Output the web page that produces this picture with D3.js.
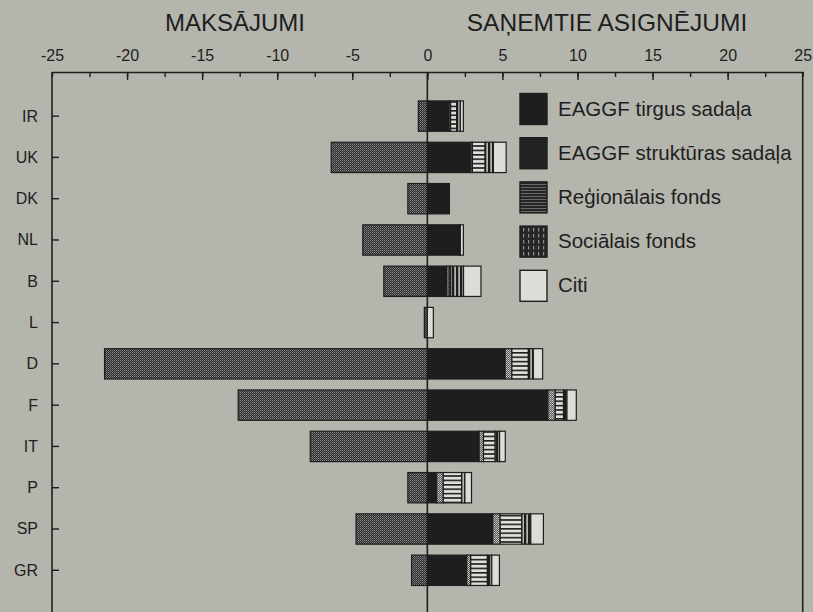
<!DOCTYPE html>
<html>
<head>
<meta charset="utf-8">
<script src="https://cdn.jsdelivr.net/npm/d3@7"></script>
<style>
  html, body { margin: 0; padding: 0; background: #b4b5ac; }
  svg { display: block; font-family: "Liberation Sans", Arial, Helvetica, sans-serif; }
</style>
</head>
<body>
<svg id="chart" width="813" height="612"></svg>
<script>
// Member states (top to bottom)
const categories = ["IR", "UK", "DK", "NL", "B", "L", "D", "F", "IT", "P", "SP", "GR"];

// Payments into the budget (negative side)
const payments = [-0.6, -6.4, -1.3, -4.3, -2.9, -0.2, -21.5, -12.6, -7.8, -1.3, -4.75, -1.05];

// Receipts by fund (positive side, stacked)
const eaggfMarket = [1.45, 2.9, 1.47, 2.15, 1.29, 0, 5.18, 8.03, 3.45, 0.62, 4.36, 2.62];
const eaggfStruct = [0.1, 0.1, 0, 0, 0.17, 0, 0.45, 0.49, 0.29, 0.44, 0.49, 0.27];
const regionalFund = [0.4, 0.85, 0, 0, 0.1, 0, 1.1, 0.55, 0.78, 1.22, 1.44, 1.11];
const socialFund = [0.25, 0.55, 0, 0.05, 0.85, 0, 0.33, 0.23, 0.29, 0.22, 0.6, 0.29];
const otherFunds = [0.2, 0.85, 0, 0.2, 1.16, 0.4, 0.62, 0.62, 0.38, 0.44, 0.84, 0.51];

const seriesKeys = ["market", "struct", "regional", "social", "other"];
const legendLabels = [
  "EAGGF tirgus sadaļa",
  "EAGGF struktūras sadaļa",
  "Reģionālais fonds",
  "Sociālais fonds",
  "Citi"
];

const majorTicks = [-25, -20, -15, -10, -5, 0, 5, 10, 15, 20, 25];
const minorTicks = d3.range(-25, 25.01, 2.5);

const ink = "#1e1e1e";
const svg = d3.select("#chart");

// ---- fill patterns ----
const defs = svg.append("defs");
function pattern(id, w, h, draw) {
  const p = defs.append("pattern").attr("id", id)
    .attr("patternUnits", "userSpaceOnUse").attr("width", w).attr("height", h);
  draw(p);
}
pattern("payStipple", 2, 2, p => {
  p.append("rect").attr("width", 2).attr("height", 2).attr("fill", "#2b2b2b");
  p.append("rect").attr("x", 0).attr("y", 0).attr("width", 1).attr("height", 1).attr("fill", "#8c8c8c");
  p.append("rect").attr("x", 1).attr("y", 1).attr("width", 1).attr("height", 1).attr("fill", "#646464");
});
pattern("structStipple", 2, 2, p => {
  p.append("rect").attr("width", 2).attr("height", 2).attr("fill", "#555");
  p.append("rect").attr("x", 0).attr("y", 0).attr("width", 1).attr("height", 1).attr("fill", "#cfcfc9");
  p.append("rect").attr("x", 1).attr("y", 1).attr("width", 1).attr("height", 1).attr("fill", "#b8b8b2");
});
pattern("regionalLines", 4, 4.4, p => {
  p.append("rect").attr("width", 4).attr("height", 4.4).attr("fill", "#e0e0da");
  p.append("rect").attr("y", 0).attr("width", 4).attr("height", 1.6).attr("fill", "#1e1e1e");
});
pattern("socialLines", 4, 4, p => {
  p.append("rect").attr("width", 4).attr("height", 4).attr("fill", "#1e1e1e");
  p.append("rect").attr("x", 2.4).attr("width", 1.4).attr("height", 4).attr("fill", "#d8d8d2");
});
pattern("legendRegional", 4, 3, p => {
  p.append("rect").attr("width", 4).attr("height", 3).attr("fill", "#262626");
  p.append("rect").attr("y", 1).attr("width", 4).attr("height", 0.9).attr("fill", "#707070");
});
pattern("legendSocial", 5, 6, p => {
  p.append("rect").attr("width", 5).attr("height", 6).attr("fill", "#262626");
  p.append("rect").attr("x", 3).attr("width", 1.2).attr("height", 3.5).attr("fill", "#8e8e8e");
});

const barFill = {
  market: ink,
  struct: "url(#structStipple)",
  regional: "url(#regionalLines)",
  social: "url(#socialLines)",
  other: "#ddddd7"
};
const legendFill = {
  market: ink,
  struct: "#222",
  regional: "url(#legendRegional)",
  social: "url(#legendSocial)",
  other: "#ddddd7"
};

// ---- scales ----
const x = d3.scaleLinear().domain([-25, 25]).range([52, 802.7]);
const y = d3.scaleBand().domain(categories).range([90, 90 + 42.2 * categories.length]).padding(0.265);

const frameTop = 72;
const frameBottom = 612;

// ---- titles ----
svg.append("text").attr("x", 235).attr("y", 31).attr("text-anchor", "middle")
  .attr("font-size", 24).attr("fill", ink).text("MAKSĀJUMI");
svg.append("text").attr("x", 607).attr("y", 31).attr("text-anchor", "middle")
  .attr("font-size", 24.5).attr("fill", ink).text("SAŅEMTIE ASIGNĒJUMI");

// ---- top axis: labels above the frame, ticks hanging inside ----
const labelAxis = svg.append("g").attr("transform", `translate(0,${frameTop - 9})`)
  .call(d3.axisTop(x).tickValues(majorTicks).tickSize(0).tickSizeOuter(0).tickPadding(2)
    .tickFormat(d => String(d)));
labelAxis.select(".domain").remove();
labelAxis.selectAll("text").attr("font-size", 16).attr("fill", ink)
  .attr("font-family", "'Liberation Sans', Arial, sans-serif");

const minorAxis = svg.append("g").attr("transform", `translate(0,${frameTop})`)
  .call(d3.axisBottom(x).tickValues(minorTicks).tickSize(5).tickSizeOuter(0).tickFormat(""));
minorAxis.select(".domain").attr("stroke", ink).attr("stroke-width", 1.6);
minorAxis.selectAll(".tick line").attr("stroke", ink).attr("stroke-width", 1.4);

const majorAxis = svg.append("g").attr("transform", `translate(0,${frameTop})`)
  .call(d3.axisBottom(x).tickValues(majorTicks.slice(1, -1)).tickSize(8).tickSizeOuter(0).tickFormat(""));
majorAxis.select(".domain").remove();
majorAxis.selectAll(".tick line").attr("stroke", ink).attr("stroke-width", 1.4);

// ---- frame sides and zero line ----
[x(-25), x(25), x(0)].forEach(px => {
  svg.append("line").attr("x1", px).attr("x2", px).attr("y1", frameTop).attr("y2", frameBottom)
    .attr("stroke", ink).attr("stroke-width", 1.6);
});

// ---- category axis ----
const yAxis = svg.append("g").attr("transform", `translate(${x(-25)},0)`)
  .call(d3.axisRight(y).tickSize(7).tickSizeOuter(0).tickFormat(""));
yAxis.select(".domain").remove();
yAxis.selectAll(".tick line").attr("stroke", ink).attr("stroke-width", 1.4);
svg.append("g").selectAll("text").data(categories).join("text")
  .attr("x", 38).attr("y", d => y(d) + y.bandwidth() / 2 + 5.5)
  .attr("text-anchor", "end").attr("font-size", 16).attr("fill", ink)
  .text(d => d);

// ---- payments bars ----
const rows = categories.map((c, i) => ({
  country: c,
  payment: payments[i],
  market: eaggfMarket[i],
  struct: eaggfStruct[i],
  regional: regionalFund[i],
  social: socialFund[i],
  other: otherFunds[i]
}));

svg.append("g").selectAll("rect").data(rows.filter(r => r.payment < 0)).join("rect")
  .attr("x", d => x(d.payment))
  .attr("y", d => y(d.country))
  .attr("width", d => x(0) - x(d.payment))
  .attr("height", y.bandwidth())
  .attr("fill", "url(#payStipple)")
  .attr("stroke", ink).attr("stroke-width", 1.2);

// ---- receipts, stacked by fund ----
const stacked = d3.stack().keys(seriesKeys)(rows);
const recG = svg.append("g");
stacked.forEach(layer => {
  recG.append("g").selectAll("rect")
    .data(layer.filter(d => d[1] - d[0] > 0))
    .join("rect")
    .attr("x", d => x(d[0]))
    .attr("y", d => y(d.data.country))
    .attr("width", d => x(d[1]) - x(d[0]))
    .attr("height", y.bandwidth())
    .attr("fill", barFill[layer.key])
    .attr("stroke", ink).attr("stroke-width", 1.2);
});

// ---- legend ----
const legend = svg.append("g");
seriesKeys.forEach((k, i) => {
  const cy = 109 + 44.2 * i;
  legend.append("rect").attr("x", 520).attr("y", cy - 15.5).attr("width", 27).attr("height", 31)
    .attr("fill", legendFill[k]).attr("stroke", ink).attr("stroke-width", 1.4);
  legend.append("text").attr("x", 558).attr("y", cy + 6.5)
    .attr("font-size", 20.5).attr("fill", ink).text(legendLabels[i]);
});
</script>
</body>
</html>
